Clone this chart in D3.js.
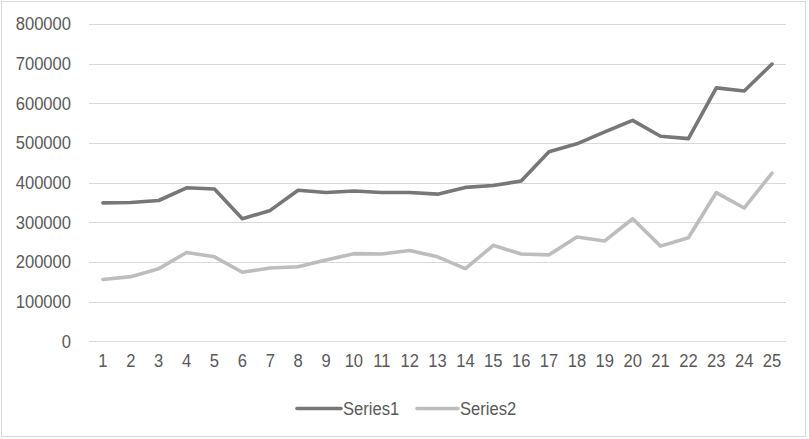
<!DOCTYPE html>
<html>
<head>
<meta charset="utf-8">
<script src="https://cdn.jsdelivr.net/npm/d3@7"></script>
<style>
  html, body { margin: 0; padding: 0; background: #fff; }
  svg { display: block; }
  text { font-family: "Liberation Sans", Arial, sans-serif; fill: #595959; }
</style>
</head>
<body>
<svg id="chart" width="809" height="439"></svg>
<script>
const categories = ["1","2","3","4","5","6","7","8","9","10","11","12","13","14","15","16","17","18","19","20","21","22","23","24","25"];
const series1 = [349000, 350000, 355000, 387000, 384000, 309000, 330000, 381000, 375000, 379000, 375000, 375000, 371000, 388000, 393000, 404000, 478000, 498000, 528000, 557000, 517000, 511000, 639000, 631000, 699000];
const series2 = [156000, 163000, 183000, 224000, 213000, 174000, 185000, 188000, 205000, 221000, 220000, 229000, 213000, 183000, 242000, 220000, 218000, 263000, 253000, 309000, 240000, 261000, 375000, 336000, 424000];
const yTicks = [0, 100000, 200000, 300000, 400000, 500000, 600000, 700000, 800000];
const seriesNames = ["Series1", "Series2"];
const seriesColors = ["#777777", "#bdbdbd"];

const svg = d3.select("#chart");
const FONT = "18px";
const SQUEEZE = 0.92;
function condense(sel) {
  sel.each(function () {
    const w = this.getComputedTextLength();
    d3.select(this).attr("textLength", w * SQUEEZE).attr("lengthAdjust", "spacingAndGlyphs");
  });
}

// outer border
svg.append("rect").attr("x", 1.5).attr("y", 1.5).attr("width", 804).attr("height", 435)
  .attr("fill", "#fff").attr("stroke", "#d9d9d9").attr("stroke-width", 1);

const x = d3.scaleBand().domain(categories).range([89, 786]);
const y = d3.scaleLinear().domain([0, 800000]).range([341.3, 24]);

// gridlines
svg.append("g").selectAll("line").data(yTicks).join("line")
  .attr("x1", 89).attr("x2", 786)
  .attr("y1", d => Math.round(y(d)) + 0.5).attr("y2", d => Math.round(y(d)) + 0.5)
  .attr("stroke", "#d9d9d9").attr("stroke-width", 1);

// y axis labels
const yAxis = d3.axisLeft(y).tickValues(yTicks).tickSize(0).tickPadding(0).tickFormat(d3.format("d"));
const gy = svg.append("g").attr("transform", "translate(71,0)").call(yAxis);
gy.select(".domain").remove();
gy.selectAll("text").style("font-size", FONT).attr("fill", "#595959")
  .style("font-family", '"Liberation Sans", Arial, sans-serif').call(condense);

// x axis labels
const xAxis = d3.axisBottom(x).tickSize(0).tickPadding(0);
const gx = svg.append("g").attr("transform", "translate(0,354)").call(xAxis);
gx.select(".domain").remove();
gx.selectAll("text").style("font-size", FONT).attr("fill", "#595959")
  .style("font-family", '"Liberation Sans", Arial, sans-serif').call(condense);

// lines
const line = d3.line().x((d, i) => x(categories[i]) + x.bandwidth() / 2).y(d => y(d));
[series1, series2].forEach((s, k) => {
  svg.append("path").datum(s).attr("d", line)
    .attr("fill", "none").attr("stroke", seriesColors[k]).attr("stroke-width", 3.6)
    .attr("stroke-linejoin", "round").attr("stroke-linecap", "round");
});

// legend
const legendItems = [{x0: 297, x1: 341}, {x0: 417, x1: 458}];
legendItems.forEach((it, k) => {
  svg.append("line").attr("x1", it.x0).attr("x2", it.x1).attr("y1", 408.5).attr("y2", 408.5)
    .attr("stroke", seriesColors[k]).attr("stroke-width", 3.6).attr("stroke-linecap", "round");
  svg.append("text").attr("x", it.x1 + 2).attr("y", 415).text(seriesNames[k])
    .style("font-size", FONT).call(condense);
});
</script>
</body>
</html>
